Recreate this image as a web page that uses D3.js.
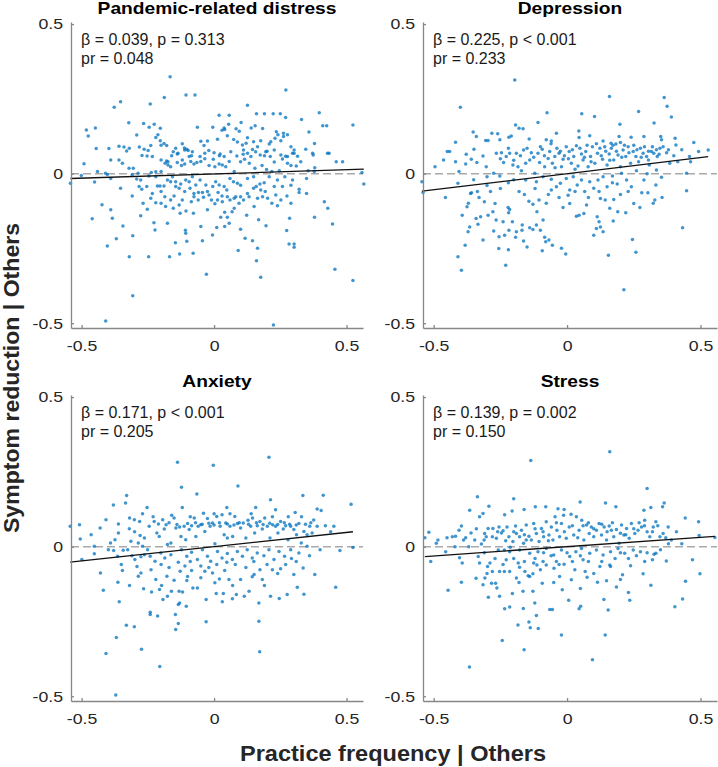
<!DOCTYPE html>
<html><head><meta charset="utf-8">
<script src="https://cdn.jsdelivr.net/npm/d3@7"></script>
<style>body{margin:0;background:#fff}svg{display:block}</style>
</head><body><svg id="c" width="718" height="767"></svg>
<script>
const panelTitles = ["Pandemic-related distress", "Depression", "Anxiety", "Stress"];
const betaText = ["β = 0.039, p = 0.313", "β = 0.225, p < 0.001", "β = 0.171, p < 0.001", "β = 0.139, p = 0.002"];
const prText = ["pr = 0.048", "pr = 0.233", "pr = 0.205", "pr = 0.150"];
const fitIntercept = [-0.001, 0.0, 0.0, 0.0];
const fitSlope = [0.028, 0.108, 0.095, 0.062];
const xTicks = [-0.5, 0, 0.5];
const yTicks = [-0.5, 0, 0.5];
const xLabel = "Practice frequency | Others";
const yLabel = "Symptom reduction | Others";

const distressPts = [
[-0.166,0.324],[0.271,0.28],[-0.188,0.255],[-0.106,0.263],[-0.072,0.263],[-0.353,0.24],[-0.377,0.222],[-0.241,0.233],[0.126,0.229],[0.397,0.204],[0.16,0.2],[0.19,0.2],[0.223,0.2],[0.25,0.2],[0.019,0.195],[0.057,0.195],[0.27,0.188],[0.33,0.181],[-0.322,0.17],[-0.266,0.168],[0.102,0.171],[0.524,0.163],[0.41,0.16],[0.425,0.16],[-0.482,0.146],[-0.448,0.153],[-0.475,0.126],[0.358,0.139],[-0.226,0.165],[-0.245,0.155],[-0.203,0.152],[0.04,0.148],[0.083,0.15],[0.14,0.153],[0.155,0.16],[0.055,0.165],[0.095,0.142],[0.235,0.14],[0.262,0.135],
[-0.445,0.084],[-0.397,0.084],[-0.359,0.092],[-0.34,0.089],[-0.33,0.076],[-0.32,0.085],[-0.292,0.129],[-0.282,0.089],[-0.272,0.061],[-0.264,0.082],[-0.253,0.059],[-0.239,0.094],[-0.22,0.121],[-0.203,0.11],[-0.212,0.13],[-0.2,0.095],[-0.179,0.094],[-0.145,0.085],[-0.136,0.068],[-0.112,0.086],[-0.103,0.082],[-0.098,0.077],[-0.063,0.155],[-0.05,0.108],[-0.038,0.094],[-0.025,0.109],[-0.005,0.155],[0.013,0.115],[0.03,0.145],[0.038,0.153],[0.05,0.127],[0.074,0.114],[0.088,0.106],[0.107,0.096],[0.121,0.102],[0.126,0.12],[0.145,0.081],[0.149,0.107],[0.164,0.09],[0.176,0.11],[0.183,0.151],[0.208,0.099],[0.214,0.107],[0.23,0.118],[0.241,0.13],[0.252,0.11],[0.262,0.124],[0.277,0.13],[0.29,0.09],[0.296,0.068],[0.302,0.079],[0.315,0.058],[0.346,0.082],[0.372,0.068],[0.374,0.062],[0.379,0.101],[0.434,0.068],
[-0.16,0.06],[-0.12,0.1],[-0.085,0.06],[0.0,0.07],[0.02,0.06],[0.11,0.065],[0.19,0.06],[0.2,0.075],[0.27,0.058],
[-0.249,0.077],[-0.233,0.057],[-0.2,0.046],[-0.189,0.101],[-0.174,0.04],[-0.154,0.073],[-0.139,0.066],[-0.12,0.046],[-0.111,0.079],[-0.094,0.057],[-0.082,0.073],[-0.053,0.057],[-0.035,0.068],[-0.02,0.077],[-0.003,0.048],[0.023,0.066],[0.038,0.057],[0.063,0.073],[0.086,0.059],[0.111,0.079],[0.126,0.068],[0.139,0.057],[0.157,0.073],[0.174,0.062],[0.195,0.073],[0.212,0.057],[0.227,0.079],[0.252,0.062],[0.277,0.057],[0.302,0.068],
[-0.491,0.033],[-0.41,0.001],[-0.44,0.007],[-0.39,0.046],[-0.359,0.046],[-0.346,0.035],[-0.321,0.018],[-0.305,0.018],[-0.287,0.001],[-0.237,0.004],[-0.22,0.006],[-0.2,0.007],[-0.185,0.035],[-0.179,0.042],[-0.174,0.029],[-0.164,0.023],[-0.139,0.037],[-0.123,0.027],[-0.111,0.032],[-0.088,0.041],[-0.076,0.032],[-0.065,0.037],[-0.05,0.041],[-0.035,0.05],[-0.019,0.027],[0.003,0.023],[0.019,0.032],[0.031,0.029],[0.044,0.023],[0.057,0.041],[0.076,0.007],[0.1,0.04],[0.115,0.048],[0.133,0.035],[0.154,0.018],[0.181,0.027],[0.198,0.014],[0.218,0.007],[0.227,0.039],[0.246,0.01],[0.277,0.035],[0.29,0.027],[0.31,0.026],[0.355,0.01],[0.38,0.02],[0.327,0.04],[0.258,0.049],[0.485,0.04],[0.461,0.04],[0.428,0.068],[0.558,0.004],
[-0.403,-0.003],[-0.39,-0.016],[-0.309,-0.004],[-0.292,-0.018],[-0.283,-0.043],[-0.273,-0.052],[-0.246,-0.008],[-0.22,-0.01],[-0.214,-0.041],[-0.204,-0.041],[-0.189,-0.041],[-0.176,-0.021],[-0.157,-0.01],[-0.145,-0.027],[-0.132,-0.049],[-0.107,-0.021],[-0.094,-0.027],[-0.082,-0.01],[-0.069,-0.038],[-0.053,-0.021],[-0.031,-0.038],[0.006,-0.027],[0.019,-0.038],[0.038,-0.043],[0.06,-0.016],[0.073,-0.027],[0.088,-0.032],[0.1,-0.039],[0.126,-0.016],[0.149,-0.01],[0.159,-0.043],[0.173,-0.035],[0.189,-0.03],[0.208,-0.01],[0.227,-0.043],[0.239,-0.021],[0.267,-0.01],[0.29,-0.039],[0.321,-0.052],[0.349,-0.016],[0.378,0.007],[-0.451,-0.028],[-0.501,-0.006],[-0.542,-0.032],[0.565,-0.035],
[-0.164,-0.027],[-0.145,-0.043],[-0.126,-0.035],[-0.111,-0.06],[-0.091,-0.049],[-0.076,-0.066],[-0.06,-0.088],[-0.04,-0.079],[-0.019,-0.071],[-0.005,-0.043],[0.013,-0.088],[0.03,-0.075],[0.048,-0.055],[0.076,-0.082],[0.094,-0.099],[0.111,-0.088],[0.126,-0.066],[0.149,-0.049],[0.176,-0.055],[0.202,-0.082],[0.233,-0.071],[0.258,-0.043],[0.296,-0.021],[-0.277,-0.021],[-0.254,-0.043],[-0.239,-0.082],[-0.2,-0.06],[-0.183,-0.11],[-0.154,-0.116],[-0.128,-0.132],[-0.078,-0.132],[-0.025,-0.121],[0.076,-0.116],[0.151,-0.11],
[-0.46,-0.151],[-0.423,-0.104],[-0.39,-0.121],[-0.384,-0.149],[-0.353,-0.049],[-0.309,-0.075],[-0.268,-0.099],[-0.277,-0.141],[-0.252,-0.119],[-0.233,-0.066],[-0.22,-0.097],[-0.2,-0.099],[-0.186,-0.077],[-0.164,-0.088],[-0.151,-0.075],[-0.132,-0.105],[-0.12,-0.088],[-0.106,-0.125],[-0.086,-0.094],[-0.076,-0.077],[-0.059,-0.063],[-0.044,-0.063],[-0.025,-0.06],[-0.01,-0.088],[0.003,-0.101],[0.015,-0.063],[0.031,-0.094],[0.04,-0.129],[0.05,-0.077],[0.06,-0.088],[0.068,-0.127],[0.025,-0.146],[0.05,-0.146],[0.082,-0.077],[0.1,-0.077],[0.132,-0.077],[0.164,-0.082],[0.183,-0.077],[0.193,-0.06],[0.218,-0.099],[0.239,-0.107],[0.252,-0.088],[0.275,-0.075],[0.29,-0.099],[0.285,-0.149],[0.321,-0.063],[0.349,-0.066],[0.379,-0.146],[0.416,-0.094],[0.429,-0.116],[0.123,-0.139],[0.168,-0.154],
[-0.344,-0.175],[-0.369,-0.218],[-0.403,-0.242],[-0.307,-0.208],[-0.32,-0.278],[-0.307,-0.408],[-0.409,-0.493],[-0.247,-0.278],[-0.227,-0.164],[-0.223,-0.188],[-0.176,-0.166],[-0.168,-0.278],[-0.146,-0.231],[-0.13,-0.269],[-0.108,-0.189],[-0.103,-0.226],[-0.107,-0.199],[-0.079,-0.266],[-0.05,-0.177],[-0.044,-0.224],[-0.029,-0.336],[-0.006,-0.205],[0.01,-0.18],[0.04,-0.177],[0.057,-0.166],[0.091,-0.257],[0.1,-0.186],[0.117,-0.216],[0.145,-0.224],[0.164,-0.249],[0.16,-0.291],[0.176,-0.346],[0.224,-0.506],[0.196,-0.174],[0.274,-0.19],[0.283,-0.235],[0.302,-0.235],[0.302,-0.246],[0.447,-0.168],[0.456,-0.32],[0.524,-0.357]
];

const depressionPts = [
[-0.196,0.313],[0.159,0.258],[0.364,0.255],[-0.4,0.222],[0.375,0.225],[0.268,0.208],[-0.075,0.204],[0.055,0.2],[0.391,0.189],[0.103,0.191],[-0.109,0.171],[-0.193,0.163],[-0.165,0.15],[-0.18,0.152],[0.326,0.169],[0.198,0.165],[-0.352,0.139],[-0.34,0.124],[-0.282,0.135],[-0.305,0.111],[-0.296,0.111],[-0.26,0.133],[-0.252,0.113],[-0.218,0.122],[-0.209,0.126],[-0.142,0.116],[-0.04,0.135],[-0.078,0.113],[-0.059,0.109],[0.044,0.143],[0.045,0.121],[0.085,0.127],[0.135,0.109],[0.165,0.102],[0.195,0.124],[0.2,0.104],[0.24,0.122],[0.288,0.124],[0.351,0.124],[0.354,0.113],[0.405,0.118],[0.408,0.096],[0.475,0.104],[0.529,0.079],[0.493,0.074],[0.459,0.057],
[-0.418,0.105],[-0.449,0.074],[-0.44,0.074],[-0.463,0.046],[-0.495,0.023],[-0.456,-0.08],[-0.544,-0.027],[-0.54,-0.063],[-0.418,0.04],[-0.405,0.007],[-0.409,-0.032],[-0.393,-0.139],[-0.382,-0.239],[-0.409,-0.278],[-0.396,-0.323],[-0.371,-0.194],[-0.375,-0.111],[-0.37,-0.099],[-0.38,0.032],[-0.378,0.065],[-0.359,0.048],[-0.349,0.082],[-0.338,0.037],[-0.358,-0.064],[-0.362,-0.066],[-0.336,-0.06],[-0.341,-0.15],[-0.365,-0.178],[-0.334,-0.169],[-0.324,-0.144],[-0.315,-0.222],[-0.31,-0.094],[-0.315,0.059],[-0.303,0.023],[-0.3,-0.01],[-0.287,-0.06],[-0.296,-0.139],[-0.278,-0.127],[-0.275,-0.192],[-0.266,-0.155],[-0.256,-0.25],[-0.255,-0.211],[-0.23,-0.306],[-0.22,-0.254],[-0.24,-0.161],[-0.234,-0.206],[-0.221,-0.113],[-0.215,-0.12],[-0.219,-0.131],[-0.205,-0.161],[-0.218,-0.189],[-0.193,-0.213],[-0.19,-0.194],[-0.169,-0.189],[-0.168,-0.172],[-0.163,-0.225],[-0.15,-0.245],[-0.14,-0.181],[-0.128,-0.187],[-0.115,-0.172],[-0.1,-0.189],[-0.093,-0.258],[-0.084,-0.213],[-0.08,-0.228],[-0.068,-0.222],[-0.055,-0.239],[-0.021,-0.249],[-0.005,-0.269],[-0.143,-0.092],[-0.128,-0.102],[-0.113,-0.127],[-0.105,-0.088],[-0.09,-0.155],[-0.078,-0.099],[-0.059,-0.055],[-0.015,-0.113],[0.004,-0.072],[0.035,-0.142],[0.045,-0.139],[0.063,-0.133],[0.073,-0.105],[0.1,-0.206],[0.113,-0.144],[0.11,-0.183],[0.12,-0.161],[0.125,-0.178],[0.135,-0.194],[0.125,-0.083],[0.143,-0.088],[0.155,-0.273],[0.16,-0.116],[0.173,-0.158],[0.175,-0.086],[0.19,-0.127],[0.213,-0.388],[0.22,-0.131],[0.229,-0.06],[0.241,-0.044],[0.245,-0.22],[0.258,-0.263],[0.273,-0.113],[0.28,-0.064],[0.288,-0.021],[0.303,-0.064],[0.323,-0.099],[0.329,-0.088],[0.333,-0.038],[0.354,-0.012],[0.356,-0.08],[0.433,-0.181],[0.448,-0.057],[0.448,0.001],[0.463,0.04],[0.335,0.012],[0.305,0.046],
[-0.265,0.068],[-0.246,0.07],[-0.228,0.057],[-0.238,0.037],[-0.215,0.068],[-0.203,0.029],[-0.19,0.068],[-0.184,0.023],[-0.171,0.01],[-0.163,0.079],[-0.15,0.085],[-0.14,0.046],[-0.134,0.07],[-0.121,0.001],[-0.109,0.068],[-0.103,0.037],[-0.093,0.082],[-0.084,0.023],[-0.071,0.051],[-0.065,0.074],[-0.055,0.035],[-0.046,0.057],[-0.038,0.085],[-0.03,0.068],[-0.021,0.023],[-0.015,0.048],[-0.003,0.09],[0.008,0.074],[0.016,0.035],[0.025,0.057],[0.035,0.093],[0.041,0.026],[0.054,0.066],[0.06,0.046],[0.07,0.074],[0.079,0.023],[0.088,0.057],[0.095,0.09],[0.104,0.035],[0.114,0.068],[0.123,0.085],[0.133,0.048],[0.141,0.09],[0.15,0.029],[0.158,0.066],[0.166,0.085],[0.175,0.046],[0.183,0.099],[0.191,0.062],[0.2,0.023],[0.21,0.079],[0.22,0.057],[0.229,0.09],[0.238,0.035],[0.248,0.074],[0.258,0.057],[0.268,0.04],[0.275,0.085],[0.285,0.068],[0.298,0.057],[0.308,0.029],[0.316,0.074],[0.325,0.068],[0.338,0.057],[0.348,0.085],[0.36,0.09],[0.373,0.07],[0.385,0.035],
[-0.25,0.05],[-0.22,0.085],[-0.2,0.045],[-0.175,0.06],[-0.155,0.035],[-0.125,0.055],[-0.1,0.09],[-0.085,0.06],[-0.06,0.1],[-0.045,0.02],[-0.025,0.075],[-0.01,0.06],[0.005,0.05],[0.02,0.08],[0.03,0.015],[0.048,0.085],[0.065,0.055],[0.075,0.095],[0.09,0.04],[0.11,0.1],[0.128,0.06],[0.145,0.075],[0.16,0.045],[0.172,0.095],[0.185,0.075],[0.205,0.055],[0.215,0.095],[0.232,0.07],[0.25,0.095],[0.262,0.08],[0.278,0.055],[0.29,0.09],[0.305,0.075],[0.32,0.09],[0.335,0.08],[0.345,0.065],[0.38,0.08],[0.4,0.06],[0.43,0.08],[0.415,0.04],
[-0.275,0.001],[-0.252,-0.008],[-0.155,-0.021],[-0.115,-0.027],[-0.09,-0.01],[-0.059,-0.019],[-0.04,-0.044],[-0.025,-0.032],[-0.003,-0.016],[0.01,-0.055],[0.023,-0.01],[0.038,-0.038],[0.054,-0.021],[0.066,-0.06],[0.085,-0.027],[0.1,-0.049],[0.116,-0.021],[0.135,-0.01],[0.15,-0.044],[0.17,-0.008],[0.188,-0.035],[0.204,0.001],[0.223,-0.021],
[-0.2,-0.02],[-0.18,-0.06],[-0.16,-0.07],[-0.12,-0.05],[-0.07,-0.07],[-0.03,-0.08],[0.01,-0.1],[0.03,-0.06],[0.08,-0.08],[0.12,-0.06],[0.17,-0.03],[0.2,-0.07],[0.25,-0.1],[0.26,0.01],[0.3,0.0],[-0.25,-0.05],[-0.22,-0.03],[-0.3,-0.04],[-0.33,-0.08],[-0.27,-0.1],[-0.35,-0.02]
];

const anxietyPts = [
[-0.138,0.282],[0.207,0.299],[-0.003,0.272],[-0.123,0.199],[0.09,0.203],[-0.065,0.176],[0.213,0.157],[-0.33,0.171],[-0.334,0.146],[-0.38,0.139],[-0.253,0.131],[0.335,0.171],[0.412,0.172],[0.517,0.142],[0.389,0.126],[0.404,0.121],[-0.12,0.131],[0.048,0.131],[0.157,0.131],[0.232,0.123],[0.306,0.114],[0.376,0.089],[-0.408,0.09],[-0.361,0.076],[-0.319,0.096],[-0.301,0.09],[-0.281,0.084],[-0.543,0.068],[-0.508,0.073],[-0.505,0.026],[-0.464,0.04],[-0.43,0.062],[-0.452,0.001],[-0.452,-0.024],[-0.499,-0.043],[-0.429,-0.088],[-0.418,-0.146],[-0.408,-0.357],[-0.371,-0.496],[-0.369,-0.304],[-0.358,-0.184],[-0.363,-0.119],[-0.331,-0.263],[-0.301,-0.268],[-0.274,-0.343],[-0.319,-0.13],[-0.346,-0.08],[-0.343,-0.012],[-0.374,0.023],[-0.361,0.046],[-0.391,0.012],[-0.399,-0.01],[-0.326,-0.01],[-0.314,0.018],[-0.286,0.012],[-0.27,0.001],[-0.263,-0.027],[-0.251,-0.01],[-0.299,-0.043],[-0.291,-0.066],[-0.276,-0.088],[-0.286,-0.099],[-0.266,-0.141],[-0.238,-0.077],[-0.236,-0.152],[-0.241,-0.219],[-0.241,-0.227],[-0.213,-0.232],[-0.205,-0.401],[-0.206,-0.143],[-0.193,-0.177],[-0.198,-0.13],[-0.178,-0.099],[-0.176,-0.166],[-0.161,-0.149],[-0.151,-0.112],[-0.146,-0.227],[-0.145,-0.277],[-0.135,-0.257],[-0.132,-0.149],[-0.13,-0.188],[-0.135,-0.193],[-0.105,-0.199],[-0.119,-0.152],[-0.128,-0.082],[-0.103,-0.113],[-0.085,-0.08],[-0.08,-0.138],[-0.063,-0.138],[-0.05,-0.104],[-0.035,-0.082],[-0.03,-0.177],[-0.03,-0.251],[-0.006,-0.088],[0.003,-0.121],[0.008,-0.157],[0.02,-0.108],[0.031,-0.184],[0.035,-0.157],[0.048,-0.052],[0.056,-0.11],[0.069,-0.174],[0.084,-0.16],[0.1,-0.11],[0.114,-0.166],[0.132,-0.149],[0.144,-0.101],[0.151,-0.093],[0.169,-0.188],[0.169,-0.249],[0.172,-0.351],[0.173,-0.077],[0.182,-0.11],[0.213,-0.166],[0.22,-0.077],[0.246,-0.173],[0.251,-0.074],[0.276,-0.16],[0.292,-0.04],[0.301,-0.093],[0.314,-0.136],[0.336,-0.071],[0.339,-0.159],[0.38,-0.093],[0.459,-0.136],[0.475,-0.013],[0.524,-0.003],
[-0.279,0.037],[-0.263,0.029],[-0.245,0.068],[-0.226,0.084],[-0.216,0.046],[-0.207,0.034],[-0.194,0.09],[-0.188,0.059],[-0.181,0.073],[-0.176,0.007],[-0.163,0.012],[-0.151,0.096],[-0.144,0.062],[-0.13,0.066],[-0.125,0.034],[-0.113,0.068],[-0.107,0.023],[-0.094,0.057],[-0.085,0.07],[-0.075,0.096],[-0.069,0.034],[-0.06,0.068],[-0.05,0.073],[-0.04,0.112],[-0.035,0.051],[-0.025,0.094],[-0.015,0.068],[-0.006,0.079],[0.003,0.01],[0.01,0.101],[0.023,0.068],[0.03,0.107],[0.038,0.04],[0.044,0.079],[0.05,0.029],[0.06,0.068],[0.07,0.034],[0.078,0.101],[0.088,0.077],[0.1,0.062],[0.11,0.079],[0.12,0.029],[0.128,0.088],[0.138,0.068],[0.145,0.096],[0.153,0.046],[0.163,0.07],[0.173,0.084],[0.182,0.059],[0.191,0.096],[0.201,0.068],[0.211,0.029],[0.221,0.073],[0.232,0.068],[0.241,0.046],[0.251,0.084],[0.261,0.059],[0.27,0.07],[0.279,0.023],[0.289,0.068],[0.301,0.057],[0.311,0.04],[0.32,0.077],[0.329,0.012],[0.339,0.051],[0.351,0.04],[0.361,0.068],[0.37,0.046],[0.389,0.068],[0.452,0.068],
[-0.21,0.076],[-0.17,0.08],[-0.14,0.074],[-0.1,0.077],[-0.07,0.08],[-0.045,0.075],[-0.02,0.078],[0.0,0.072],[0.02,0.08],[0.05,0.076],[0.075,0.072],[0.095,0.08],[0.13,0.075],[0.16,0.08],[0.185,0.074],[0.21,0.078],[0.24,0.074],[0.265,0.08],[0.285,0.075],[0.31,0.072],[0.345,0.075],[0.365,0.08],[-0.3,0.05],[-0.32,0.06],[-0.27,0.11],[-0.23,0.1],[-0.16,0.105],[-0.09,0.1],[0.0,0.11],[0.06,0.11],[0.14,0.11],[0.22,0.1],[0.28,0.1],[0.33,0.1],[0.42,0.07],[0.44,0.05],
[-0.379,-0.013],[-0.364,-0.032],[-0.276,-0.034],[-0.241,-0.032],[-0.223,-0.049],[-0.201,-0.021],[-0.186,-0.038],[-0.163,-0.027],[-0.135,-0.052],[-0.123,-0.01],[-0.103,-0.032],[-0.085,-0.019],[-0.063,-0.043],[-0.044,-0.01],[-0.025,-0.032],[-0.013,-0.049],[0.013,-0.016],[0.03,-0.038],[0.05,-0.023],[0.069,-0.043],[0.088,-0.016],[0.107,-0.032],[0.125,-0.01],[0.144,-0.038],[0.163,-0.021],[0.188,-0.03],[0.207,-0.01],[0.226,-0.043],[0.245,-0.016],[0.266,-0.032],[0.289,-0.01],[0.32,-0.021],[0.351,0.001],
[-0.35,-0.06],[-0.31,-0.03],[-0.2,-0.06],[-0.17,-0.07],[-0.11,-0.065],[-0.09,-0.05],[-0.05,-0.065],[-0.02,-0.07],[0.01,-0.06],[0.04,-0.08],[0.08,-0.06],[0.12,-0.07],[0.15,-0.05],[0.2,-0.06],[0.24,-0.09],[0.27,-0.06],[0.31,-0.05],[0.36,-0.03],[0.4,-0.01],[-0.22,-0.11],[-0.1,-0.1],[0.07,-0.13],[0.19,-0.13]
];

const stressPts = [
[0.16,0.317],[-0.136,0.288],[0.3,0.194],[-0.336,0.167],[-0.2,0.16],[0.049,0.149],[0.144,0.146],[0.364,0.146],[-0.293,0.135],[-0.365,0.122],[-0.315,0.111],[-0.328,0.1],[-0.234,0.107],[-0.206,0.119],[-0.161,0.124],[-0.119,0.133],[-0.08,0.133],[-0.034,0.127],[-0.011,0.124],[0.183,0.133],[0.288,0.122],[0.314,0.131],[0.358,0.133],[0.443,0.096],[0.493,0.083],[-0.533,0.03],[-0.518,0.048],[-0.511,-0.05],[-0.49,0.011],[-0.484,0.022],[-0.455,-0.017],[-0.446,-0.146],[-0.43,0.033],[-0.418,0.035],[-0.405,0.055],[-0.396,0.069],[-0.403,-0.037],[-0.393,-0.055],[-0.396,-0.119],[-0.388,0.022],[-0.369,0.0],[-0.36,0.046],[-0.346,0.022],[-0.341,-0.106],[-0.366,-0.402],[-0.333,-0.033],[-0.328,-0.055],[-0.321,0.009],[-0.311,0.022],[-0.315,-0.127],[-0.308,-0.105],[-0.303,0.033],[-0.298,-0.066],[-0.295,-0.169],[-0.289,-0.055],[-0.283,-0.122],[-0.28,-0.083],[-0.278,0.061],[-0.268,-0.122],[-0.263,-0.138],[-0.258,-0.011],[-0.255,0.066],[-0.253,-0.083],[-0.253,-0.166],[-0.243,-0.314],[-0.24,0.053],[-0.235,-0.011],[-0.235,-0.083],[-0.234,-0.208],[-0.228,-0.044],[-0.215,-0.083],[-0.215,-0.202],[-0.213,-0.002],[-0.205,-0.157],[-0.193,0.069],[-0.19,-0.105],[-0.184,-0.262],[-0.183,-0.055],[-0.178,0.033],[-0.178,-0.069],[-0.165,-0.149],[-0.164,-0.207],[-0.161,-0.345],[-0.158,-0.083],[-0.153,0.022],[-0.146,-0.097],[-0.143,-0.252],[-0.14,-0.1],[-0.138,-0.271],[-0.128,-0.091],[-0.128,-0.149],[-0.125,-0.055],[-0.121,-0.188],[-0.115,-0.23],[-0.113,-0.061],[-0.108,-0.274],[-0.1,-0.077],[-0.093,-0.122],[-0.088,-0.02],[-0.078,-0.061],[-0.065,-0.21],[-0.055,-0.21],[-0.049,-0.072],[-0.04,-0.05],[-0.028,-0.1],[-0.021,-0.295],[-0.018,-0.144],[-0.011,-0.059],[0.006,-0.179],[0.016,-0.111],[0.029,-0.077],[0.045,-0.208],[0.051,-0.199],[0.06,-0.044],[0.068,-0.083],[0.075,-0.102],[0.095,-0.378],[0.114,-0.119],[0.123,-0.066],[0.138,-0.177],[0.143,-0.295],[0.148,-0.114],[0.154,-0.212],[0.16,-0.061],[0.163,-0.066],[0.185,-0.135],[0.208,-0.094],[0.23,-0.153],[0.235,-0.179],[0.238,-0.064],[0.285,-0.091],[0.291,-0.05],[0.314,-0.129],[0.32,-0.044],[0.326,-0.025],[0.333,-0.022],[0.372,-0.048],[0.404,-0.201],[0.433,-0.175],[0.444,-0.116],[0.47,-0.044],[0.498,-0.091],[0.554,0.031],[0.495,0.037],
[-0.309,0.044],[-0.296,0.061],[-0.28,0.033],[-0.265,0.028],[-0.246,0.046],[-0.225,0.066],[-0.218,0.033],[-0.203,0.017],[-0.19,0.044],[-0.171,0.055],[-0.163,0.011],[-0.153,0.072],[-0.143,0.035],[-0.134,0.022],[-0.125,0.077],[-0.115,0.044],[-0.105,0.017],[-0.096,0.061],[-0.088,0.033],[-0.078,0.083],[-0.068,0.039],[-0.059,0.066],[-0.053,0.022],[-0.045,0.1],[-0.038,0.055],[-0.028,0.033],[-0.021,0.077],[-0.013,0.105],[-0.003,0.028],[0.008,0.066],[0.015,0.108],[0.025,0.039],[0.035,0.1],[0.045,0.055],[0.055,0.088],[0.063,0.022],[0.073,0.072],[0.083,0.044],[0.091,0.066],[0.1,0.033],[0.11,0.055],[0.12,0.077],[0.129,0.039],[0.139,0.066],[0.148,0.022],[0.158,0.069],[0.166,0.055],[0.175,0.033],[0.185,0.057],[0.195,0.011],[0.204,0.072],[0.213,0.039],[0.223,0.061],[0.233,0.028],[0.241,0.077],[0.254,0.044],[0.266,0.055],[0.279,0.066],[0.291,0.088],[0.3,0.05],[0.31,0.033],[0.323,0.066],[0.333,0.083],[0.348,0.033],[0.36,0.044],[0.379,0.066],[0.391,0.022],
[-0.45,0.03],[-0.42,0.0],[-0.38,0.03],[-0.34,0.06],[-0.26,0.05],[-0.23,0.02],[-0.2,0.05],[-0.16,0.04],[-0.12,0.06],[-0.09,0.05],[-0.07,0.02],[-0.04,0.08],[-0.01,0.05],[0.02,0.07],[0.04,0.03],[0.06,0.07],[0.08,0.08],[0.1,0.06],[0.13,0.075],[0.15,0.05],[0.17,0.08],[0.2,0.045],[0.22,0.04],[0.25,0.06],[0.27,0.08],[0.29,0.07],[0.32,0.05],[0.34,0.07],[0.37,0.03],[0.41,0.05],[0.43,0.01],
[-0.215,-0.017],[-0.178,-0.011],[-0.14,-0.022],[-0.109,-0.017],[-0.078,-0.006],[-0.05,-0.028],[-0.021,-0.011],[0.01,-0.033],[0.033,-0.017],[0.054,-0.006],[0.085,-0.022],[0.11,-0.011],[0.135,-0.028],[0.163,-0.017],[0.191,-0.006],[0.216,-0.022],[0.248,-0.011],[0.275,-0.017],
[-0.31,-0.02],[-0.27,-0.04],[-0.24,-0.06],[-0.2,-0.04],[-0.16,-0.05],[-0.12,-0.04],[-0.09,-0.05],[-0.06,-0.03],[-0.03,-0.06],[0.0,-0.02],[0.02,-0.05],[0.05,-0.03],[0.08,-0.05],[0.1,-0.09],[0.13,-0.05],[0.18,-0.04],[0.2,-0.02],[0.23,-0.04],[0.26,-0.03],[0.3,-0.02],[0.35,-0.01],[0.38,0.01],[-0.18,-0.12],[-0.05,-0.12],[0.05,-0.14],[0.2,-0.11],[-0.3,-0.09]
];

const panelData = [distressPts, depressionPts, anxietyPts, stressPts];

const svg = d3.select("#c");
const boxes = [
  {x:71, y:22, w:292, h:306},
  {x:423, y:22, w:294, h:306},
  {x:71, y:395, w:292, h:306},
  {x:423, y:395, w:294, h:306}
];
const xDom = [-0.54, 0.562], yDom = [-0.516, 0.507];
const FONT = "'Liberation Sans', Arial, Helvetica, sans-serif";
const NARROW = "'Liberation Sans Narrow', 'Arial Narrow', 'Liberation Sans', Arial, sans-serif";
const fmt = d => d === 0 ? "0" : String(d);

boxes.forEach((b, i) => {
  const g = svg.append("g").attr("transform", `translate(${b.x},${b.y})`);
  const x = d3.scaleLinear().domain(xDom).range([0, b.w]);
  const y = d3.scaleLinear().domain(yDom).range([b.h, 0]);

  g.append("line")
    .attr("x1", 0).attr("x2", b.w).attr("y1", y(0)).attr("y2", y(0))
    .attr("stroke", "#a9a9a9").attr("stroke-width", 1.5).attr("stroke-dasharray", "8,4");

  g.append("g").selectAll("circle").data(panelData[i]).join("circle")
    .attr("cx", d => x(d[0])).attr("cy", d => y(d[1])).attr("r", 1.75)
    .attr("fill", "#0072BD").attr("fill-opacity", 0.75);

  const ext = d3.extent(panelData[i], d => d[0]);
  const fit = d3.line().x(d => x(d)).y(d => y(fitIntercept[i] + fitSlope[i] * d));
  g.append("path").attr("d", fit(ext)).attr("fill", "none")
    .attr("stroke", "#111").attr("stroke-width", 1.3);

  const xa = g.append("g").attr("transform", `translate(0,${b.h})`)
    .call(d3.axisBottom(x).tickValues(xTicks).tickFormat(fmt).tickSizeInner(-3).tickSizeOuter(0).tickPadding(12.4));
  const ya = g.append("g")
    .call(d3.axisLeft(y).tickValues(yTicks).tickFormat(fmt).tickSizeInner(-3).tickSizeOuter(0).tickPadding(6.8));
  [xa, ya].forEach(a => {
    a.attr("font-family", FONT).attr("font-size", 15);
    a.selectAll("path,line").attr("stroke", "#878787").attr("stroke-width", 1.3);
    a.selectAll("text").attr("fill", "#262626").attr("transform", "scale(1.18,1)");
  });

  g.append("text").attr("transform", `translate(${b.w/2},-8) scale(1.2,1)`)
    .attr("text-anchor", "middle").attr("font-family", FONT).attr("font-weight", "bold")
    .attr("font-size", 16).attr("fill", "#000").text(panelTitles[i]);

  g.append("text").attr("x", 10).attr("y", 23).attr("font-family", FONT)
    .attr("font-size", 16).attr("fill", "#1a1a1a").text(betaText[i]);
  g.append("text").attr("x", 10).attr("y", 41.5).attr("font-family", FONT)
    .attr("font-size", 16).attr("fill", "#1a1a1a").text(prText[i]);
});

svg.append("text").attr("x", 393).attr("y", 761).attr("text-anchor", "middle")
  .attr("font-family", NARROW).attr("font-weight", "bold").attr("font-size", 22)
  .attr("fill", "#262626").attr("textLength", 306).attr("lengthAdjust", "spacingAndGlyphs")
  .text(xLabel);
svg.append("text").attr("transform", "translate(18.5,378) rotate(-90)").attr("text-anchor", "middle")
  .attr("font-family", NARROW).attr("font-weight", "bold").attr("font-size", 22)
  .attr("fill", "#262626").attr("textLength", 310).attr("lengthAdjust", "spacingAndGlyphs")
  .text(yLabel);
</script></body></html>
